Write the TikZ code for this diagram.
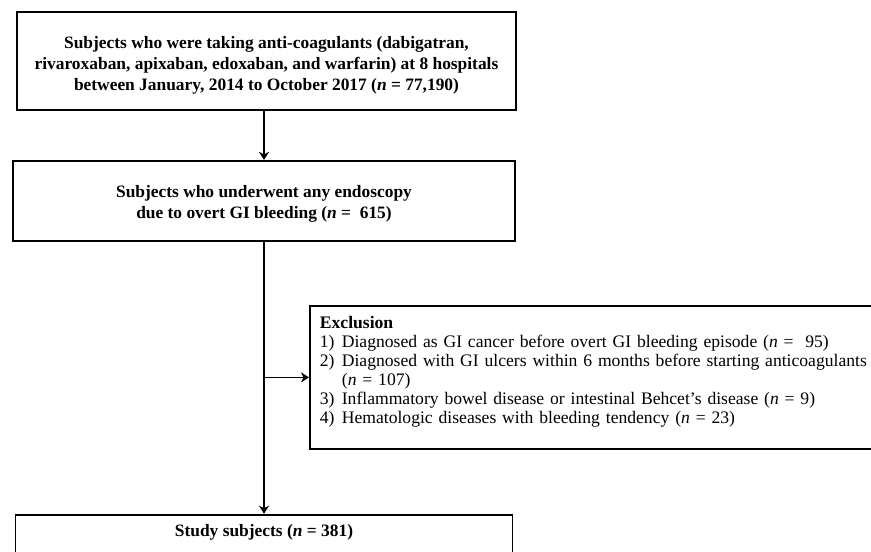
\documentclass[tikz,border=0pt]{standalone}
\usepackage{fontspec}
\setmainfont{Liberation Serif}
\usetikzlibrary{arrows.meta, positioning}
\tikzset{
>={Stealth[length=8pt, width=10pt, inset=2.5pt]}, % makes the arrow heads bold
node distance=49pt, % gap between the first two boxes
box/.style={draw, line width=1.8pt, align=center, inner sep=0pt,
  font=\fontsize{17.4}{21}\selectfont\bfseries}, % the stage boxes
flow/.style={->, line width=1.4pt}, % the connectors
}

\begin{document}
\begin{tikzpicture}[x=1pt, y=-1pt]
  \useasboundingbox (0,0) rectangle (871,552);
  \node[box, minimum width=499pt, minimum height=98pt, text height=63pt] (top) at (266.5,61)
    {Subjects who were taking anti-coagulants (dabigatran,\\
     rivaroxaban, apixaban, edoxaban, and warfarin) at 8 hospitals\\
     between January, 2014 to October 2017 (\textit{n} = 77,190)};
  \node[box, minimum width=502pt, minimum height=80pt, text height=40pt,
    below=of top, xshift=-2.5pt] (endo)
    {Subjects who underwent any endoscopy\\
     due to overt GI bleeding (\textit{n} =\ \ 615)};
  \node[box, anchor=north west, minimum width=570pt, minimum height=143pt,
    align=left, inner xsep=10pt, text width=550pt, text depth=111pt,
    font=\fontsize{17.6}{19}\selectfont] (excl) at (309,305)
    {\textbf{Exclusion}\\
     \makebox[22pt][l]{1)}Diagnosed as GI cancer before overt GI bleeding episode (\textit{n} =\ \ 95)\\
     \makebox[22pt][l]{2)}Diagnosed with GI ulcers within 6 months before starting anticoagulants\\
     \hspace*{22pt}(\textit{n} = 107)\\
     \makebox[22pt][l]{3)}Inflammatory bowel disease or intestinal Behcet's disease (\textit{n} = 9)\\
     \makebox[22pt][l]{4)}Hematologic diseases with bleeding tendency (\textit{n} = 23)};
  \node[box, minimum width=497pt, inner ysep=10pt, text depth=40pt, below=272pt of endo] (study)
    {Study subjects (\textit{n} = 381)};

  \coordinate (split) at (endo.south |- excl.west);

  \draw[flow] (endo.north |- top.south) -- (endo.north);
  \draw[flow] (endo) -- (study);
  \draw[flow] (split) -- (excl.west |- split);
\end{tikzpicture}
\end{document}
